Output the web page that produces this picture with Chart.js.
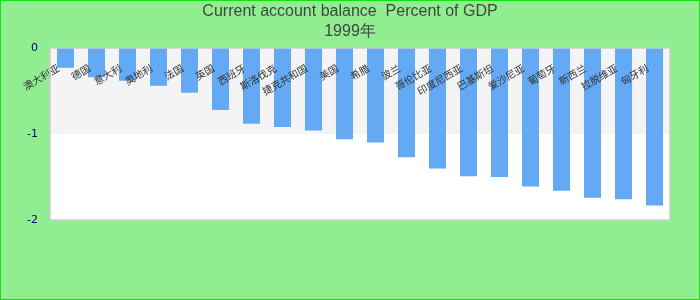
<!DOCTYPE html>
<html>
<head>
<meta charset="utf-8">
<script src="https://cdn.jsdelivr.net/npm/chart.js@4/dist/chart.umd.min.js"></script>
<style>
  html, body { margin: 0; padding: 0; background: #90ee90; }
  #wrap { width: 700px; height: 300px; position: relative; }
</style>
</head>
<body>
<div id="wrap"><canvas id="chart"></canvas></div>
<script>
// chart data
const titleLines = ['Current account balance  Percent of GDP', '1999年'];
const categories = [
    '澳大利亚', '德国', '意大利', '奥地利', '法国', '英国', '西班牙', '斯洛伐克', '捷克共和国', '美国',
    '希腊', '波兰', '哥伦比亚', '印度尼西亚', '巴基斯坦', '爱沙尼亚', '葡萄牙', '新西兰', '拉脱维亚', '匈牙利'
];
const values = [
    -0.23, -0.34, -0.38, -0.44, -0.52, -0.72, -0.88, -0.92, -0.96, -1.06,
    -1.10, -1.27, -1.40, -1.49, -1.50, -1.61, -1.66, -1.74, -1.76, -1.83
];
const yMin = -2;
const yMax = 0;
const bandColors = ['#f4f4f4', '#ffffff'];

// background, bands and frame
const framePlugin = {
    id: 'frame',
    beforeDraw: function(chart) {
        const c = chart.ctx;
        c.save();
        c.fillStyle = '#90ee90';
        c.fillRect(0, 0, chart.width, chart.height);
        const area = chart.chartArea;
        const y = chart.scales.y;
        const ticks = y.ticks.map(function(t) { return t.value; }).sort(function(a, b) { return b - a; });
        for (let i = 0; i < ticks.length - 1; i++) {
            const top = y.getPixelForValue(ticks[i]);
            const bottom = y.getPixelForValue(ticks[i + 1]);
            c.fillStyle = bandColors[i % bandColors.length];
            c.fillRect(area.left, top, area.right - area.left, bottom - top);
        }
        c.restore();
    },
    afterDraw: function(chart) {
        const c = chart.ctx;
        const area = chart.chartArea;
        c.save();
        c.strokeStyle = '#cccccc';
        c.lineWidth = 1.5;
        c.strokeRect(area.left, area.top, area.right - area.left, area.bottom - area.top);
        c.strokeStyle = '#11e011';
        c.lineWidth = 1;
        c.strokeRect(0.5, 0.5, chart.width - 1, chart.height - 1);
        c.restore();
    }
};

new Chart(document.getElementById('chart'), {
    type: 'bar',
    data: {
        labels: categories,
        datasets: [{
            data: values,
            backgroundColor: '#63a9f4',
            borderWidth: 0,
            categoryPercentage: 0.55,
            barPercentage: 1
        }]
    },
    options: {
        responsive: true,
        maintainAspectRatio: false,
        animation: false,
        layout: {
            padding: { top: 0, right: 0, bottom: 80, left: 0 }
        },
        plugins: {
            legend: { display: false },
            tooltip: { enabled: false },
            title: {
                display: true,
                text: titleLines,
                color: '#444444',
                font: { family: "'Liberation Sans', Arial, sans-serif", size: 16, weight: 'normal', lineHeight: 1.25 },
                padding: { top: 2, bottom: 6 }
            }
        },
        scales: {
            x: {
                position: { y: 0 },
                grid: { display: false },
                border: { display: false },
                ticks: {
                    z: 1,
                    autoSkip: false,
                    minRotation: 30,
                    maxRotation: 30,
                    padding: 6,
                    labelOffset: -7,
                    color: '#333333',
                    font: { family: "'Noto Sans CJK SC', sans-serif", size: 10 }
                }
            },
            y: {
                min: yMin,
                max: yMax,
                grid: { display: false },
                border: { display: false },
                afterFit: function(scale) { scale.width = 50; },
                ticks: {
                    stepSize: 1,
                    padding: 4,
                    color: '#000080',
                    font: { family: "'DejaVu Sans', sans-serif", size: 11 }
                }
            },
            yRight: {
                position: 'right',
                grid: { display: false },
                border: { display: false },
                ticks: { display: false },
                afterFit: function(scale) { scale.width = 30; }
            }
        }
    },
    plugins: [framePlugin]
});
</script>
</body>
</html>
